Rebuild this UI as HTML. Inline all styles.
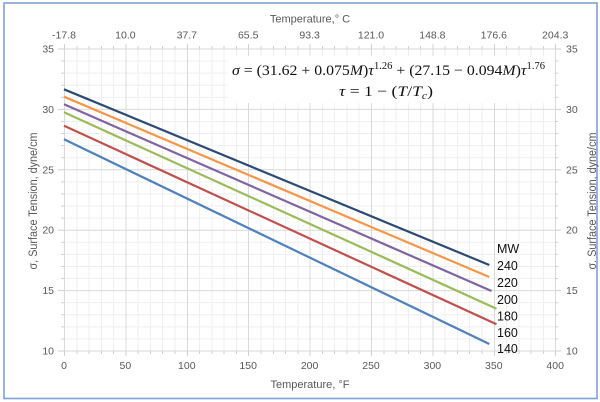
<!DOCTYPE html>
<html><head><meta charset="utf-8"><style>
html,body{margin:0;padding:0;background:#fff;}
svg{display:block;}
.sans{font-family:"Liberation Sans",sans-serif;}
.serif{font-family:"Liberation Serif",serif;}
</style></head><body>
<svg width="600" height="402" viewBox="0 0 600 402" xmlns="http://www.w3.org/2000/svg">
<rect x="0" y="0" width="600" height="402" fill="#fff"/>
<rect x="4" y="3" width="593" height="395.5" fill="none" stroke="#7ea1d6" stroke-width="1.6"/>
<g id="minor" stroke="#efefef" stroke-width="1">
</g>
<g id="major" stroke="#d9d9d9" stroke-width="1">
</g>
<g id="ticks" stroke="#d0d0d0" stroke-width="1"></g>
<rect x="228" y="56" width="325" height="47" fill="#fff"/>
<g fill="none" stroke-width="2.2" stroke-linecap="butt">
<line x1="64" y1="139.3" x2="489.3" y2="344" stroke="#4f81bd"/>
<line x1="64" y1="125.7" x2="496.5" y2="324.3" stroke="#c0504d"/>
<line x1="64" y1="112.3" x2="496.5" y2="308.7" stroke="#9bbb59"/>
<line x1="64" y1="104.3" x2="491.5" y2="291" stroke="#8064a2"/>
<line x1="64" y1="96.7" x2="489.3" y2="277" stroke="#f79646"/>
<line x1="64" y1="89.3" x2="489.3" y2="265" stroke="#2c4a74"/>
</g>
<g class="sans" font-size="12.5" fill="#111">
<text class="sans" x="497" y="253">MW</text>
<text class="sans" x="497" y="270">240</text>
<text class="sans" x="497" y="287">220</text>
<text class="sans" x="497" y="304">200</text>
<text class="sans" x="497" y="320.5">180</text>
<text class="sans" x="497" y="337">160</text>
<text class="sans" x="497" y="353">140</text>
</g>
<g fill="#111" font-size="15">
<text class="serif" x="232" y="75" textLength="313" lengthAdjust="spacingAndGlyphs"><tspan font-style="italic">σ</tspan> = (31.62 + 0.075<tspan font-style="italic">M</tspan>)<tspan font-style="italic">τ</tspan><tspan font-size="10" dy="-6">1.26</tspan><tspan dy="6"> + (27.15 − 0.094</tspan><tspan font-style="italic">M</tspan>)<tspan font-style="italic">τ</tspan><tspan font-size="10" dy="-6">1.76</tspan></text>
<text class="serif" x="339" y="96" textLength="94" lengthAdjust="spacingAndGlyphs"><tspan font-style="italic">τ</tspan> = 1 − (<tspan font-style="italic">T</tspan>/<tspan font-style="italic">T</tspan><tspan font-size="10" font-style="italic" dy="3">c</tspan><tspan dy="-3">)</tspan></text>
</g>
<g font-size="10.5" fill="#595959">
<text class="sans" x="310" y="22.5" text-anchor="middle" font-size="11">Temperature,° C</text>
<text class="sans" x="310" y="388" text-anchor="middle" font-size="11">Temperature, °F</text>
<g text-anchor="middle" id="toplab"></g>
<g text-anchor="middle" id="botlab"></g>
<g text-anchor="end" id="leftlab"></g>
<g text-anchor="start" id="rightlab"></g>
<text class="sans" font-size="11.5" transform="translate(37,201) rotate(-90)" text-anchor="middle" textLength="137" lengthAdjust="spacingAndGlyphs">σ, Surface Tension, dyne/cm</text>
<text class="sans" font-size="11.5" transform="translate(596,201) rotate(-90)" text-anchor="middle" textLength="137" lengthAdjust="spacingAndGlyphs">σ. Surface Tension, dyne/cm</text>
</g>
<script>
(function(){
var NS="http://www.w3.org/2000/svg";
function X(f){return 64+f*1.228;}
function Y(v){return 351-(v-10)*12.08;}
function ln(g,x1,y1,x2,y2){var l=document.createElementNS(NS,"line");l.setAttribute("x1",x1);l.setAttribute("y1",y1);l.setAttribute("x2",x2);l.setAttribute("y2",y2);g.appendChild(l);}
function tx(g,x,y,s){var t=document.createElementNS(NS,"text");t.setAttribute("x",x);t.setAttribute("y",y);t.setAttribute("class","sans");t.textContent=s;g.appendChild(t);}
var mi=document.getElementById("minor"),ma=document.getElementById("major"),tk=document.getElementById("ticks");
for(var f=0;f<=400;f+=10){var x=X(f)+0.5;x=Math.round(x*2)/2; if(f%50){ln(mi,x,Y(35),x,Y(10));ln(tk,x,Y(35),x,Y(35)-3);ln(tk,x,Y(10),x,Y(10)+3);}else{ln(ma,x,Y(35),x,Y(10));ln(tk,x,Y(35),x,Y(35)-5);ln(tk,x,Y(10),x,Y(10)+5);}}
for(var v=10;v<=35;v+=1){var y=Y(v); if(v%5){ln(mi,X(0),y,X(400),y);ln(tk,X(0)-3,y,X(0),y);ln(tk,X(400),y,X(400)+3,y);}else{ln(ma,X(0),y,X(400),y);ln(tk,X(0)-6,y,X(0),y);ln(tk,X(400),y,X(400)+6,y);}}
var tl=document.getElementById("toplab"),bl=document.getElementById("botlab"),ll=document.getElementById("leftlab"),rl=document.getElementById("rightlab");
var tops=["-17.8","10.0","37.7","65.5","93.3","121.0","148.8","176.6","204.3"];
for(var i=0;i<=8;i++){tx(tl,X(i*50),38.5,tops[i]);tx(bl,X(i*50),369,String(i*50));}
for(var v=10;v<=35;v+=5){tx(ll,54,Y(v)+3.5,String(v));tx(rl,566,Y(v)+3.5,String(v));}
})();
</script>
</svg>
</body></html>
